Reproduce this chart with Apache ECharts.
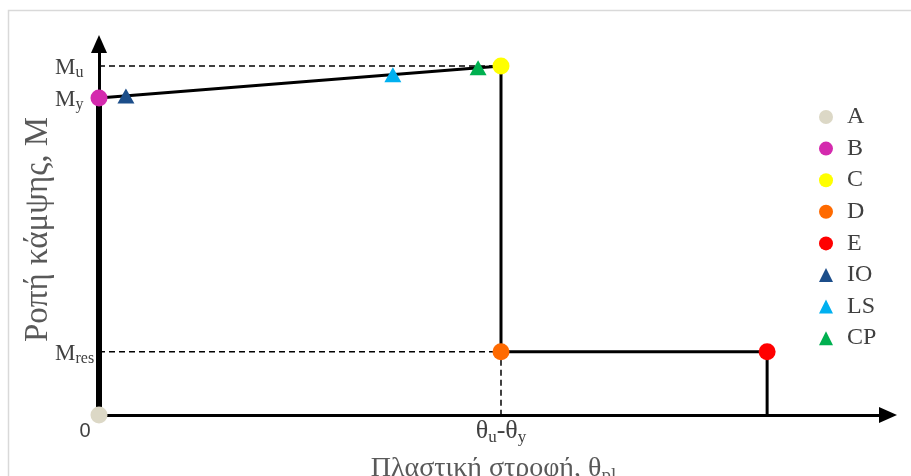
<!DOCTYPE html>
<html><head><meta charset="utf-8">
<script src="https://cdn.jsdelivr.net/npm/echarts@6/dist/echarts.min.js"></script>
<style>html,body{margin:0;padding:0;background:#fff}#c{width:911px;height:476px}</style>
</head><body><div id="c"></div>
<script>
// Normalised values: rotation relative to (θu-θy), moment relative to Mu
const Mu = 1.0;
const My = 0.908;
const Mres = 0.181;
const thetaU = 1.0;       // θu-θy
const thetaE = 1.662;     // end of residual plateau
const pointNames = ['A', 'B', 'C', 'D', 'E'];
const pointX = [0, 0, thetaU, thetaU, thetaE];
const pointY = [0, My, Mu, Mres, Mres];
const pointColors = ['#dcd8c6', '#d42aae', '#ffff00', '#ff6a00', '#ff0000'];
const perfNames = ['IO', 'LS', 'CP'];
const perfX = [0.067, 0.731, 0.943];
const perfY = [0.914, 0.975, 0.995];
const perfColors = ['#1c4e8a', '#00b0f0', '#00b050'];
const yTickValues = [Mres, My, Mu];
const yTickSubs = ['res', 'y', 'u'];
const xTickValues = [0, thetaU];

const serif = '"Liberation Serif", "DejaVu Serif", serif';
const txt = '#404040';

const series = [];
// backbone curve
series.push({ type: 'line', data: [[0, My], [thetaU, Mu], [thetaU, Mres], [thetaE, Mres], [thetaE, 0]],
  symbol: 'none', lineStyle: { color: '#000', width: 3 }, z: 2, silent: true });
// thick elastic part on the moment axis
series.push({ type: 'line', data: [[0, 0], [0, My]], symbol: 'none', lineStyle: { color: '#000', width: 6 }, z: 2, silent: true });
// dashed reference lines
series.push({ type: 'line', data: [[0, Mu], [thetaU, Mu]], symbol: 'none', lineStyle: { color: '#000', width: 1.5, type: [6, 4] }, z: 1, silent: true });
series.push({ type: 'line', data: [[0, Mres], [thetaU, Mres], [thetaU, 0]], symbol: 'none', lineStyle: { color: '#000', width: 1.5, type: [6, 4] }, z: 1, silent: true });
pointNames.forEach((n, i) => series.push({ name: n, type: 'scatter', symbol: 'circle', symbolSize: 17,
  itemStyle: { color: pointColors[i], opacity: 1 }, data: [[pointX[i], pointY[i]]], z: 5 }));
perfNames.forEach((n, i) => series.push({ name: n, type: 'scatter', symbol: 'triangle', symbolSize: [17, 15],
  itemStyle: { color: perfColors[i], opacity: 1 }, data: [[perfX[i], perfY[i]]], z: 6 }));

const chart = echarts.init(document.getElementById('c'));
chart.setOption({
  animation: false,
  backgroundColor: '#fff',
  graphic: [{ type: 'rect', shape: { x: 8.5, y: 10.5, width: 950, height: 500 }, style: { fill: 'none', stroke: '#d9d9d9', lineWidth: 1.5 }, z: -10 }],
  grid: { left: 99, right: 23, top: 44, bottom: 61, outerBoundsMode: 'none', containLabel: false },
  legend: {
    orient: 'vertical', left: 814, top: 100, itemWidth: 14, itemHeight: 14, itemGap: 7.6,
    data: pointNames.concat(perfNames),
    textStyle: { fontFamily: serif, fontSize: 24, color: txt, padding: [0, 0, 0, 9] }
  },
  xAxis: {
    type: 'value', min: 0, max: 1.9627,
    splitLine: { show: false },
    axisLine: { show: true, lineStyle: { color: '#000', width: 3 }, symbol: ['none', 'triangle'], symbolSize: [16, 18] },
    axisTick: { show: false },
    axisLabel: {
      customValues: xTickValues, margin: 1,
      formatter: v => v === 0 ? '{z|0}' : '{m|θ}{s|u}{m|-θ}{s|y}',
      rich: {
        z: { fontFamily: '"Liberation Sans", sans-serif', fontSize: 20, color: txt, padding: [5, 28, 0, 0] },
        m: { fontFamily: serif, fontSize: 26, color: txt, lineHeight: 30, verticalAlign: 'middle' },
        s: { fontFamily: serif, fontSize: 17, color: txt, lineHeight: 15, verticalAlign: 'bottom' }
      }
    },
    name: '{m|Πλαστική στροφή, θ}{s|pl}', nameLocation: 'middle', nameGap: 37,
    nameTextStyle: { rich: {
      m: { fontFamily: serif, fontSize: 28, color: '#595959', lineHeight: 34, verticalAlign: 'middle' },
      s: { fontFamily: serif, fontSize: 19, color: '#595959', lineHeight: 16, verticalAlign: 'bottom' }
    } }
  },
  yAxis: {
    type: 'value', min: 0, max: 1.063,
    splitLine: { show: false },
    axisLine: { show: true, lineStyle: { color: '#000', width: 3 }, symbol: ['none', 'triangle'], symbolSize: [16, 18] },
    axisTick: { show: false },
    axisLabel: {
      customValues: yTickValues, margin: 44, align: 'left',
      formatter: v => '{m|M}{s|' + yTickSubs[yTickValues.indexOf(v)] + '}',
      rich: {
        m: { fontFamily: serif, fontSize: 23, color: txt, lineHeight: 30, verticalAlign: 'middle', padding: [4, 0, 0, 0] },
        s: { fontFamily: serif, fontSize: 16, color: txt, lineHeight: 14, verticalAlign: 'bottom' }
      }
    },
    name: 'Ροπή κάμψης, M', nameLocation: 'middle', nameGap: 44, nameRotate: 90, nameMoveOverlap: false,
    nameTextStyle: { fontFamily: serif, fontSize: 33, color: '#595959' }
  },
  series: series
});
</script></body></html>
